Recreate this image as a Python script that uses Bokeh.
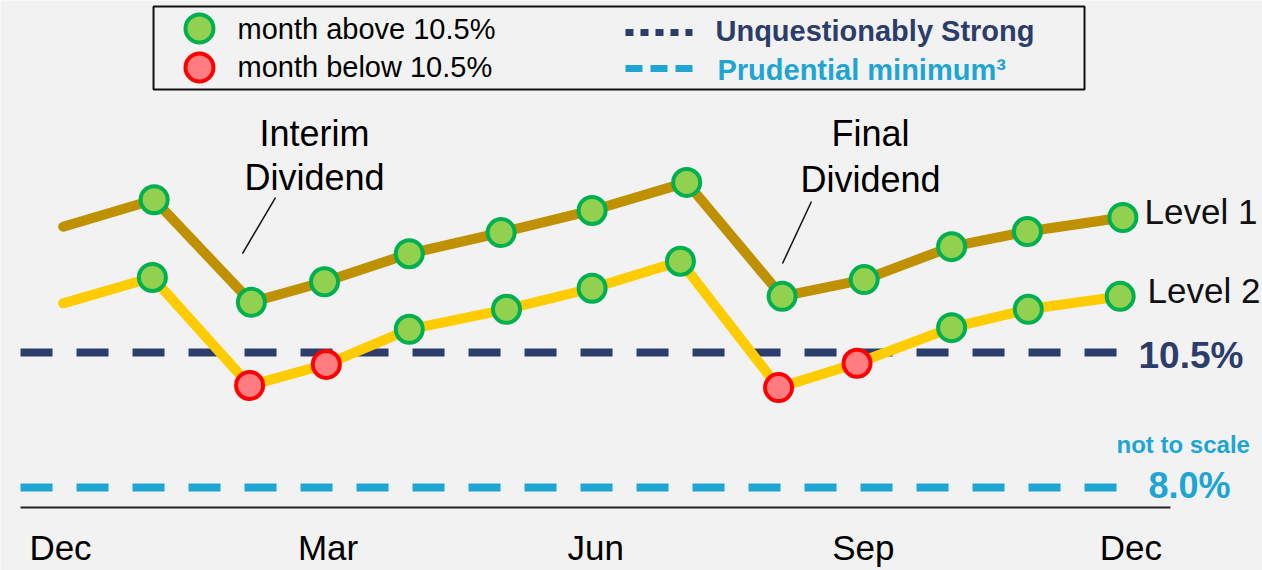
from bokeh.plotting import figure
from bokeh.models import Range1d
from bokeh.core.properties import value
from bokeh.embed import file_html
from bokeh.resources import INLINE

# ---------------- data ----------------
month_ticks = [0, 3, 6, 9, 12]
month_labels = ["Dec", "Mar", "Jun", "Sep", "Dec"]

level1_x = [0.03, 1.05, 2.14, 2.96, 3.91, 4.94, 5.96, 7.02, 8.09, 9.01, 9.99, 10.84, 11.91]
level1 = [12.83, 13.33, 11.43, 11.81, 12.33, 12.72, 13.13, 13.65, 11.54, 11.85, 12.46, 12.74, 13.00]

level2_x = [0.03, 1.03, 2.12, 2.98, 3.91, 5.00, 5.96, 6.95, 8.05, 8.93, 9.99, 10.85, 11.88]
level2 = [11.41, 11.89, 9.89, 10.28, 10.93, 11.30, 11.69, 12.19, 9.85, 10.30, 10.96, 11.30, 11.54]

unquestionably_strong = 10.5
prudential_minimum = 8.0

series_labels = ["Level 1", "Level 2"]
annotation_lines = ["Interim", "Dividend", "Final", "Dividend"]

# ---------------- styling ----------------
BG = "#f2f2f2"
NAVY = "#2c3d6b"
LBLUE = "#1fa5d4"
GOLD_DARK = "#bf9000"
GOLD = "#ffcc00"
GREEN_FILL, GREEN_LINE = "#92d050", "#00b050"
RED_FILL, RED_LINE = "#ff7c80", "#ff0000"
FONT = value("Liberation Sans")
PX_PER_UNIT = 54.0  # vertical screen pixels per percentage point


def lift(ys, size):
    """Small upward correction of a text baseline, proportional to its font size."""
    return [y + 0.33 * size / PX_PER_UNIT for y in ys]


p = figure(width=1262, height=570, output_backend="svg", toolbar_location=None,
           x_range=Range1d(-0.6726, 13.4753), y_range=Range1d(6.4630, 17.0185),
           x_axis_location=None, y_axis_location=None, min_border=0,
           background_fill_color=BG, border_fill_color=BG, outline_line_color=None)
p.grid.visible = False

line_start, line_end = -0.448, 11.85

# threshold lines
p.line(x=[line_start, line_end], y=[unquestionably_strong] * 2, line_color=NAVY,
       line_width=8, line_dash="32 24")
p.line(x=[line_start, line_end], y=[prudential_minimum] * 2, line_color=LBLUE,
       line_width=8, line_dash="32 24")

# baseline
p.line(x=[-0.448, 12.444], y=[7.63, 7.63], line_color="#222222", line_width=2)

# series lines
p.line(x=level1_x, y=level1, line_color=GOLD_DARK, line_width=10,
       line_cap="round", line_join="round")
p.line(x=level2_x, y=level2, line_color=GOLD, line_width=10,
       line_cap="round", line_join="round")

# monthly markers (first point has no marker)
mx, my, mf, ml = [], [], [], []
for xs, ys in ((level1_x, level1), (level2_x, level2)):
    for xv, yv in zip(xs[1:], ys[1:]):
        above = yv >= unquestionably_strong
        mx.append(xv)
        my.append(yv)
        mf.append(GREEN_FILL if above else RED_FILL)
        ml.append(GREEN_LINE if above else RED_LINE)
p.scatter(x=mx, y=my, size=27, fill_color=mf, line_color=ml, line_width=4)

# dividend annotations
p.text(x=[2.848, 2.848, 9.081, 9.081], y=lift([14.333, 13.519, 14.333, 13.481], 36),
       text=annotation_lines, text_font=FONT, text_font_size="36px",
       text_align="center", text_baseline="alphabetic", text_color="black")
p.segment(x0=[2.410, 8.419], y0=[13.370, 13.296], x1=[2.040, 8.094], y1=[12.333, 12.148],
          line_color="#111111", line_width=1.5)

# series labels
p.text(x=[12.153, 12.187], y=lift([12.889, 11.426], 35), text=series_labels, text_font=FONT,
       text_font_size="35px", text_align="left", text_baseline="alphabetic",
       text_color="#111111")

# threshold labels
p.text(x=[12.085], y=lift([10.222], 37), text=["10.5%"], text_font=FONT, text_font_size="37px",
       text_font_style="bold", text_align="left", text_baseline="alphabetic", text_color=NAVY)
p.text(x=[11.839], y=lift([8.648], 24), text=["not to scale"], text_font=FONT,
       text_font_size="24px", text_font_style="bold", text_align="left",
       text_baseline="alphabetic", text_color=LBLUE)
p.text(x=[12.197], y=lift([7.815], 36), text=["8.0%"], text_font=FONT, text_font_size="36px",
       text_font_style="bold", text_align="left", text_baseline="alphabetic", text_color=LBLUE)

# month labels
p.text(x=month_ticks, y=lift([6.67] * len(month_ticks), 35), text=month_labels,
       text_font=FONT, text_font_size="35px", text_align="center",
       text_baseline="alphabetic", text_color="black")

# legend (drawn by hand)
p.quad(left=[1.043], right=[11.48], top=[16.907], bottom=[15.37], fill_color=None,
       line_color="#111111", line_width=2)
p.scatter(x=[1.558, 1.558], y=[16.5, 15.778], size=28, line_width=4,
          fill_color=[GREEN_FILL, RED_FILL], line_color=[GREEN_LINE, RED_LINE])
p.text(x=[1.984, 1.984], y=lift([16.315, 15.611], 29),
       text=["month above 10.5%", "month below 10.5%"],
       text_font=FONT, text_font_size="29px", text_align="left", text_baseline="alphabetic",
       text_color="black")
p.line(x=[6.334, 7.085], y=[16.426, 16.426], line_color=NAVY, line_width=7, line_dash="8 7")
p.line(x=[6.334, 7.085], y=[15.759, 15.759], line_color=LBLUE, line_width=7, line_dash="17 8")
p.text(x=[7.343], y=lift([16.278], 29), text=["Unquestionably Strong"], text_font=FONT,
       text_font_size="29px", text_font_style="bold", text_align="left",
       text_baseline="alphabetic", text_color=NAVY)
p.text(x=[7.365], y=lift([15.556], 29), text=["Prudential minimum\u00b3"], text_font=FONT,
       text_font_size="29px", text_font_style="bold", text_align="left",
       text_baseline="alphabetic", text_color=LBLUE)

html = file_html(p, INLINE)
html = html.replace("<body>", '<body style="background-color:#f2f2f2;">', 1)
open("out.html", "w").write(html)
